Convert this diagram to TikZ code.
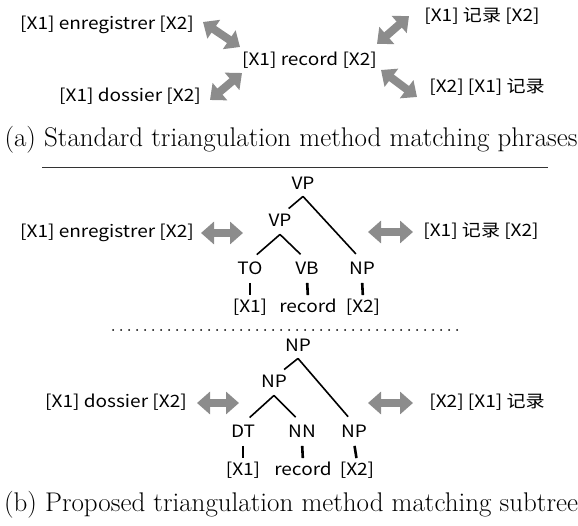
\documentclass[tikz,border=0pt]{standalone}
\usepackage{fontspec}
\newfontfamily\cjk[FakeStretch=1.12]{Noto Sans CJK SC}
\usetikzlibrary{arrows.meta}
\definecolor{arrowgray}{HTML}{8C8C8C}
\tikzset{
  lbl/.style={font=\cjk\fontsize{17}{19}\selectfont, inner sep=2pt, text height=11.5pt, text depth=3pt},
  catnode/.style={font=\cjk\fontsize{17}{19}\selectfont, inner sep=2pt, text height=11.5pt, text depth=3pt},
  branch/.style={line width=1.6pt, black},
  tickline/.style={line width=2.6pt, black},
  dbl/.style={draw=arrowgray, line width=8pt, {Triangle[length=13pt,width=22pt]}-{Triangle[length=13pt,width=22pt]}},
  capt/.style={font=\fontsize{27}{32}\selectfont, inner sep=0pt}
}
\begin{document}
\begin{tikzpicture}[x=1pt,y=-1pt]
\useasboundingbox (0,0) rectangle (578,526);
% ---------- (a) ----------
\node[lbl] (en1) at (107,25) {[X1] enregistrer [X2]};
\node[lbl] (rec) at (309.5,61) {[X1] record [X2]};
\node[lbl] (do1) at (130,97) {[X1] dossier [X2]};
\node[lbl] (zh1) at (482,17) {[X1] 记录 [X2]};
\node[lbl] (zh2) at (487,88) {[X2] [X1] 记录};
\coordinate (a1s) at (203,22); \coordinate (a1e) at (240,47);
\coordinate (a2s) at (210,100); \coordinate (a2e) at (242,73);
\coordinate (a3s) at (377,44); \coordinate (a3e) at (409,16);
\coordinate (a4s) at (381,70); \coordinate (a4e) at (417,97);
\draw[dbl] (a1s) -- (a1e);
\draw[dbl] (a2s) -- (a2e);
\draw[dbl] (a3s) -- (a3e);
\draw[dbl] (a4s) -- (a4e);
\node[capt] (capa) at (291,140) {(a) Standard triangulation method matching phrases};
\coordinate (r1) at (42,168); \coordinate (r2) at (548,168);
\draw[line width=1pt, black!80] (r1) -- (r2);
% ---------- (b) upper tree ----------
\node[catnode] (vpa) at (303,185) {VP};
\node[catnode] (vpb) at (280,222) {VP};
\node[catnode] (to) at (250,270) {TO};
\node[catnode] (vb) at (307,270) {VB};
\node[catnode] (npa) at (362,270) {NP};
\node[lbl] (l1) at (250,308) {[X1]};
\node[lbl] (l2) at (308,308) {record};
\node[lbl] (l3) at (363,308) {[X2]};
\draw[branch] ([yshift=-2pt]vpa.south) -- ([xshift=-5pt,yshift=4pt]vpb.north east);
\draw[branch, shorten >=9pt] ([yshift=-2pt]vpa.south) -- (npa.north);
\draw[branch, shorten >=9pt] ([yshift=-3pt]vpb.south) -- (to.north);
\draw[branch, shorten >=9pt] ([yshift=-3pt]vpb.south) -- (vb.north);
\draw[tickline, shorten <=3.5pt, shorten >=3.5pt] (to.south) -- (l1.north);
\draw[tickline, shorten <=3.5pt, shorten >=3.5pt] (vb.south) -- (l2.north);
\draw[tickline, shorten <=3.5pt, shorten >=3.5pt] (npa.south) -- (l3.north);
\node[lbl] (en2) at (107,233) {[X1] enregistrer [X2]};
\node[lbl] (zh3) at (481,232) {[X1] 记录 [X2]};
\coordinate (b1s) at (201,233); \coordinate (b1e) at (243,233);
\coordinate (b2s) at (368,232); \coordinate (b2e) at (413,232);
\draw[dbl] (b1s) -- (b1e);
\draw[dbl] (b2s) -- (b2e);
\coordinate (d1) at (113,330); \coordinate (d2) at (463,330);
\draw[line width=2pt, line cap=round, dash pattern=on 0pt off 8pt] (d1) -- (d2);
% ---------- (b) lower tree ----------
\node[catnode] (npc) at (298,347) {NP};
\node[catnode] (npd) at (274,383) {NP};
\node[catnode] (dt) at (243,433) {DT};
\node[catnode] (nn) at (302,433) {NN};
\node[catnode] (npe) at (354,433) {NP};
\node[lbl] (m1) at (243,471) {[X1]};
\node[lbl] (m2) at (303,471) {record};
\node[lbl] (m3) at (357,471) {[X2]};
\draw[branch] ([yshift=-2pt]npc.south) -- ([xshift=-5pt,yshift=4pt]npd.north east);
\draw[branch, shorten >=9pt] ([yshift=-2pt]npc.south) -- (npe.north);
\draw[branch, shorten >=9pt] ([yshift=-3pt]npd.south) -- (dt.north);
\draw[branch, shorten >=9pt] ([yshift=-3pt]npd.south) -- (nn.north);
\draw[tickline, shorten <=3.5pt, shorten >=3.5pt] (dt.south) -- (m1.north);
\draw[tickline, shorten <=3.5pt, shorten >=3.5pt] (nn.south) -- (m2.north);
\draw[tickline, shorten <=3.5pt, shorten >=3.5pt] (npe.south) -- (m3.north);
\node[lbl] (do2) at (116,403) {[X1] dossier [X2]};
\node[lbl] (zh4) at (487,403) {[X2] [X1] 记录};
\coordinate (c1s) at (197,403); \coordinate (c1e) at (239,403);
\coordinate (c2s) at (368,403); \coordinate (c2e) at (413,403);
\draw[dbl] (c1s) -- (c1e);
\draw[dbl] (c2s) -- (c2e);
\node[capt] (capb) at (291,505) {(b) Proposed triangulation method matching subtree};
\end{tikzpicture}
\end{document}
